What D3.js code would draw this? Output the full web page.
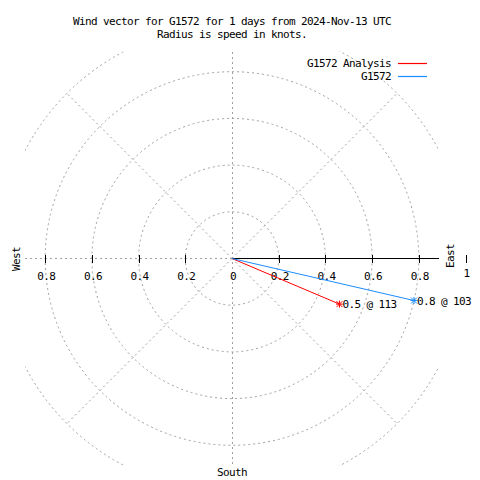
<!DOCTYPE html>
<html><head><meta charset="utf-8">
<script src="https://cdn.jsdelivr.net/npm/d3@7"></script>
<style>
body{margin:0;background:#fff;}
text{font-family:"DejaVu Sans Mono",monospace;font-size:11px;letter-spacing:-0.62px;fill:#000;}
</style></head><body>
<script>
const titleLines = ["Wind vector for G1572 for 1 days from 2024-Nov-13 UTC", "Radius is speed in knots."];
const seriesNames = ["G1572 Analysis", "G1572"];
const seriesSpeed = [0.5, 0.8];
const seriesDir = [113, 103];
const seriesColor = ["#ff0000", "#1a8cff"];
const ringValues = [0.2, 0.4, 0.6, 0.8, 1.0];
const tickValues = [0.2, 0.4, 0.6, 0.8];
const spokeAngles = [45, 135, 225, 315];
const compassLabels = ["West", "East", "South"];

const W = 480, H = 480, cx = 232, cy = 258.5;
const r = d3.scaleLinear().domain([0, 1]).range([0, 233.5]);
const lim = 0.8865;
const gray = "#a0a0a0";

const svg = d3.select("body").append("svg").attr("width", W).attr("height", H);
svg.append("defs").append("clipPath").attr("id", "box")
  .append("rect").attr("x", cx - r(lim)).attr("y", cy - r(lim)).attr("width", 2 * r(lim)).attr("height", 2 * r(lim));

const gridWrap = svg.append("g").attr("clip-path", "url(#box)");
const gg = gridWrap.append("g").attr("transform", `translate(${cx},${cy})`);
gg.selectAll("circle.ring").data(ringValues).join("circle")
  .attr("r", d => r(d)).attr("fill", "none").attr("stroke", gray).attr("stroke-dasharray", "2,3");
gg.selectAll("line.spoke").data(spokeAngles).join("line")
  .attr("x1", 0).attr("y1", 0)
  .attr("x2", d => r(1) * Math.sin(d * Math.PI / 180))
  .attr("y2", d => -r(1) * Math.cos(d * Math.PI / 180))
  .attr("stroke", gray).attr("stroke-dasharray", "2,3");
gg.append("line").attr("x1", 0.5).attr("x2", 0.5).attr("y1", -r(lim)).attr("y2", r(lim))
  .attr("stroke", gray).attr("stroke-dasharray", "2,3").attr("shape-rendering", "crispEdges");
gg.append("line").attr("x1", -r(lim)).attr("x2", 0).attr("y1", 0).attr("y2", 0)
  .attr("stroke", gray).attr("stroke-dasharray", "2,3").attr("shape-rendering", "crispEdges");

const g = svg.append("g").attr("transform", `translate(${cx},${cy})`);
g.append("line").attr("x1", 0).attr("x2", r(lim)).attr("y1", 0).attr("y2", 0)
  .attr("stroke", "#000").attr("shape-rendering", "crispEdges");
const allTicks = tickValues.map(v => -v).concat(tickValues).concat([1]);
g.selectAll("line.tick").data(allTicks).join("line")
  .attr("x1", d => Math.round(r(d)) + 0.5).attr("x2", d => Math.round(r(d)) + 0.5)
  .attr("y1", -4).attr("y2", 4).attr("stroke", "#000").attr("shape-rendering", "crispEdges");
const labelTicks = [0].concat(allTicks);
g.selectAll("text.tl").data(labelTicks).join("text")
  .attr("x", d => r(d) + 1).attr("y", d => d === 1 ? 18 : 21)
  .attr("text-anchor", "middle")
  .text(d => d3.format("~g")(Math.abs(d)));

svg.append("text").attr("transform", "translate(20,259) rotate(-90)").attr("text-anchor", "middle").text(compassLabels[0]);
svg.append("text").attr("transform", "translate(454,256) rotate(-90)").attr("text-anchor", "middle").text(compassLabels[1]);
svg.append("text").attr("x", cx).attr("y", 476).attr("text-anchor", "middle").text(compassLabels[2]);

svg.selectAll("text.title").data(titleLines).join("text")
  .attr("x", 232).attr("y", (d, i) => 25 + i * 13).attr("text-anchor", "middle").text(d => d);

const pts = seriesSpeed.map((s, i) => {
  const a = seriesDir[i] * Math.PI / 180;
  return { x: r(s) * Math.sin(a), y: -r(s) * Math.cos(a), s, d: seriesDir[i], c: seriesColor[i] };
});
g.selectAll("line.vec").data(pts).join("line")
  .attr("x1", 0).attr("y1", 0).attr("x2", d => d.x).attr("y2", d => d.y)
  .attr("stroke", d => d.c).attr("stroke-width", 1);
const star = g.selectAll("g.star").data(pts).join("g")
  .attr("transform", d => `translate(${d.x},${d.y})`);
star.append("path").attr("d", "M-3.5,0H3.5M0,-3.5V3.5M-3,-3L3,3M-3,3L3,-3")
  .attr("stroke", d => d.c).attr("fill", "none");
g.selectAll("text.vl").data(pts).join("text")
  .attr("x", d => d.x + 3).attr("y", d => d.y + 4)
  .text(d => `${d.s} @ ${d.d}`);

const leg = svg.append("g");
seriesNames.forEach((n, i) => {
  const y = 63 + i * 12.5;
  leg.append("text").attr("x", 391).attr("y", y + 4).attr("text-anchor", "end").text(n);
  leg.append("line").attr("x1", 398).attr("x2", 427).attr("y1", Math.round(y) + 0.5).attr("y2", Math.round(y) + 0.5)
    .attr("stroke", seriesColor[i]).attr("stroke-width", 1.2);
});
</script></body></html>
